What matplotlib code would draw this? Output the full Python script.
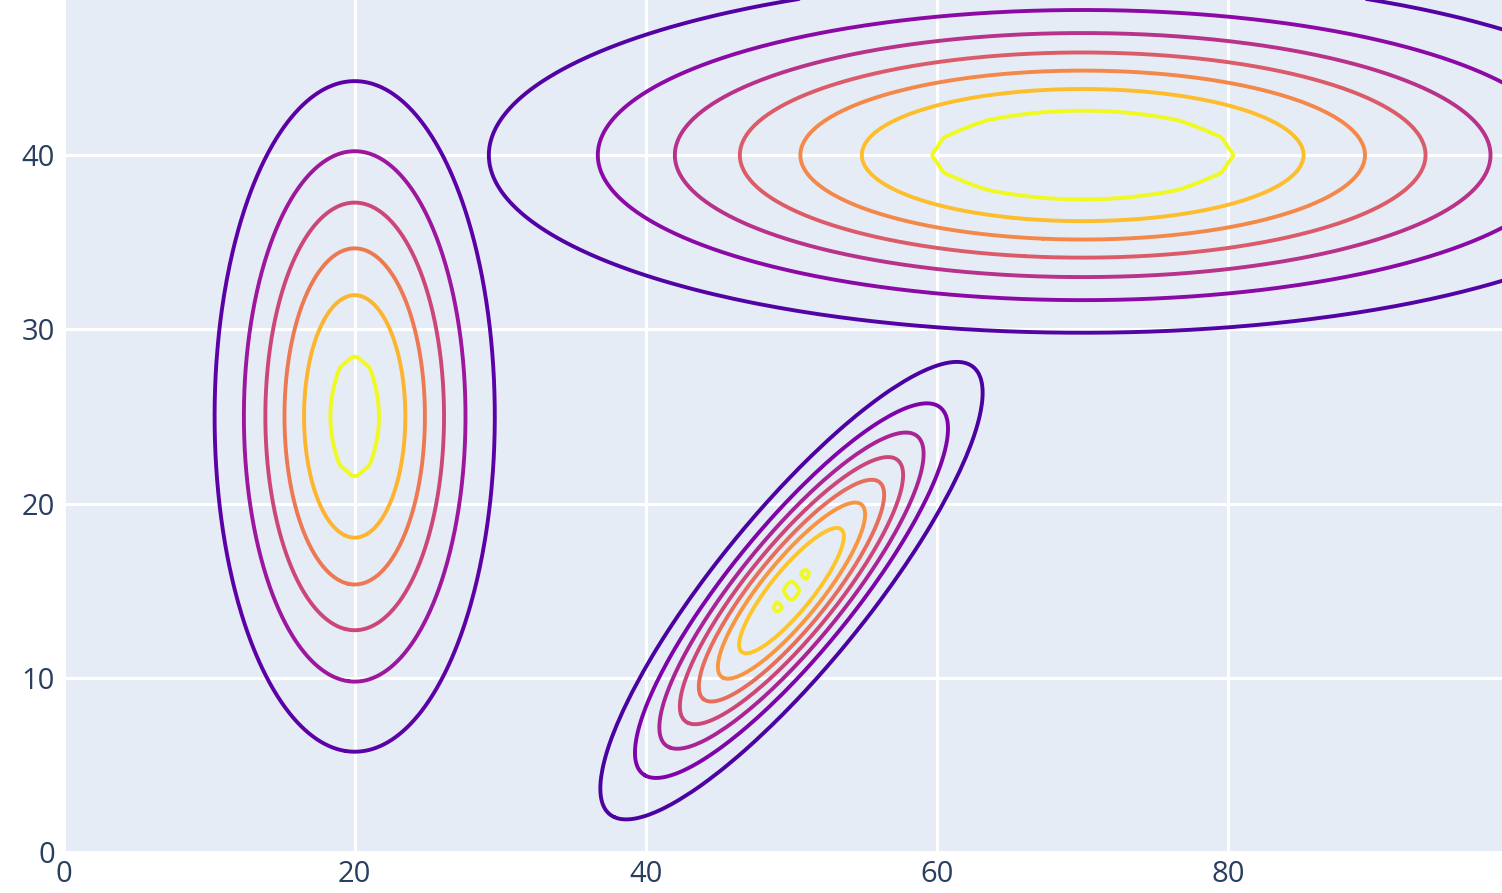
import numpy as np
import matplotlib
matplotlib.use("Agg")
import matplotlib.pyplot as plt
import contourpy

# Three gaussian bumps, each drawn as its own contour trace (own level set and colours)
centers_x = [20, 70, 50]
centers_y = [25, 40, 15]
sigma_x = [5.0, 20.0, 6.4]
sigma_y = [10.0, 5.0, 6.4]
rho = [0.0, 0.0, 0.865]
peak = [6.37, 8.0, 8.2]      # peak height in units of the contour spacing
n_levels = [6, 7, 8]

# data grid (step 1) - the innermost ring comes straight off this grid,
# the outer rings are traced on a finer grid so they come out round
x_grid = np.arange(0, 101, 1)
y_grid = np.arange(0, 51, 1)
x_fine = np.arange(0, 100.01, 0.2)
y_fine = np.arange(0, 50.01, 0.2)

x_ticks = [0, 20, 40, 60, 80]
y_ticks = [0, 10, 20, 30, 40]

BG = "#e5ecf6"
TEXT = "#2a3f5f"
plt.rcParams["font.family"] = ["Open Sans", "DejaVu Sans"]


def bump(xs, ys, cx, cy, sx, sy, r, p):
    X, Y = np.meshgrid(xs, ys)
    dx = (X - cx) / sx
    dy = (Y - cy) / sy
    q = (dx ** 2 + dy ** 2 - 2 * r * dx * dy) / (1 - r ** 2)
    return p * np.exp(-0.5 * q)


def smooth_line(pts, closed, n_sub=8):
    # centripetal catmull-rom through the points (like plotly's line smoothing)
    keep = [0]
    for i in range(1, len(pts)):
        if np.hypot(*(pts[i] - pts[keep[-1]])) > 1e-6:
            keep.append(i)
    p = pts[keep]
    if closed and np.hypot(*(p[0] - p[-1])) < 1e-6:
        p = p[:-1]
    if len(p) < 3:
        return p
    if closed:
        ext = np.vstack([p[-1:], p, p[:2]])
    else:
        ext = np.vstack([2 * p[0] - p[1], p, 2 * p[-1] - p[-2]])
    scale = np.array([14.56, 17.43])
    out = []
    for i in range(1, len(ext) - 2):
        P0, P1, P2, P3 = ext[i - 1], ext[i], ext[i + 1], ext[i + 2]
        t0 = 0.0
        t1 = t0 + np.linalg.norm((P1 - P0) * scale) ** 0.5 + 1e-9
        t2 = t1 + np.linalg.norm((P2 - P1) * scale) ** 0.5 + 1e-9
        t3 = t2 + np.linalg.norm((P3 - P2) * scale) ** 0.5 + 1e-9
        t = np.linspace(t1, t2, n_sub, endpoint=False)[:, None]
        A1 = (t1 - t) / (t1 - t0) * P0 + (t - t0) / (t1 - t0) * P1
        A2 = (t2 - t) / (t2 - t1) * P1 + (t - t1) / (t2 - t1) * P2
        A3 = (t3 - t) / (t3 - t2) * P2 + (t - t2) / (t3 - t2) * P3
        B1 = (t2 - t) / (t2 - t0) * A1 + (t - t0) / (t2 - t0) * A2
        B2 = (t3 - t) / (t3 - t1) * A2 + (t - t1) / (t3 - t1) * A3
        out.append((t2 - t) / (t2 - t1) * B1 + (t - t1) / (t2 - t1) * B2)
    out = np.vstack(out)
    if closed:
        out = np.vstack([out, out[:1]])
    else:
        out = np.vstack([out, p[-1:]])
    return out


fig = plt.figure(figsize=(15.02, 8.93), dpi=100)
ax = fig.add_axes([63.5 / 1502, 41 / 893, 1 - 63.5 / 1502, 852 / 893])
ax.set_facecolor(BG)

cmap = plt.get_cmap("plasma")

for cx, cy, sx, sy, r, p, n in zip(centers_x, centers_y, sigma_x, sigma_y, rho, peak, n_levels):
    z_coarse = bump(x_grid, y_grid, cx, cy, sx, sy, r, p)
    z_fine = bump(x_fine, y_fine, cx, cy, sx, sy, r, p)
    gen_coarse = contourpy.contour_generator(x_grid, y_grid, z_coarse)
    gen_fine = contourpy.contour_generator(x_fine, y_fine, z_fine)
    for k in range(1, n + 1):
        color = cmap(k / n)
        gen = gen_coarse if k == n else gen_fine
        for line in gen.lines(k):
            closed = len(line) > 3 and np.allclose(line[0], line[-1])
            sm = smooth_line(line, closed)
            ax.plot(sm[:, 0], sm[:, 1], color=color, linewidth=2.8,
                    solid_joinstyle="round", solid_capstyle="round", zorder=3)

ax.set_xlim(0, 98.8)
ax.set_ylim(0, 48.9)
ax.set_xticks(x_ticks)
ax.set_yticks(y_ticks)
ax.grid(True, color="white", linewidth=2.2, zorder=1)
ax.set_axisbelow(True)
for s in ax.spines.values():
    s.set_visible(False)
ax.tick_params(length=0, labelsize=21, labelcolor=TEXT, pad=6)

fig.savefig("out.png", dpi=100, facecolor="white")
